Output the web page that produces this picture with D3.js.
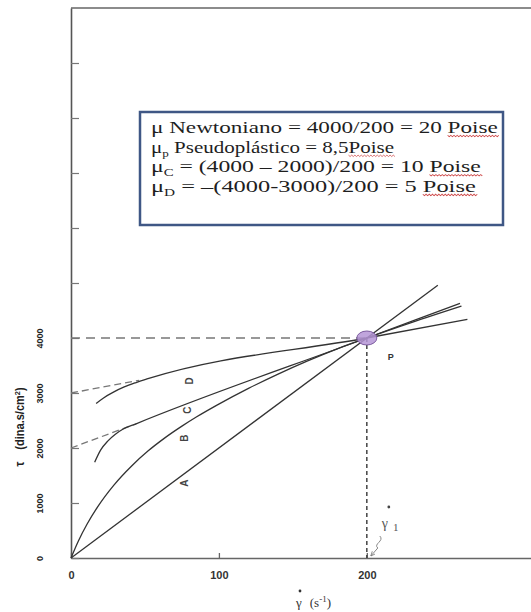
<!DOCTYPE html>
<html>
<head>
<meta charset="utf-8">
<script src="https://cdn.jsdelivr.net/npm/d3@7"></script>
<style>
body { margin: 0; background: #fff; }
svg { display: block; }
</style>
</head>
<body>
<svg width="531" height="612"></svg>
<script>
const width = 531;
const height = 612;

// values (x: shear rate s^-1, y: stress dina.s/cm2)
const xTicks = [0, 100, 200];
const yTicks = [0, 1000, 2000, 3000, 4000, 5000, 6000, 7000, 8000, 9000];
const yLabelMax = 4000;

const curveA = [[0, 0], [248, 4960]];
const curveB = [[0, 0], [5, 310], [11, 622], [18, 930], [29, 1326], [41, 1674], [52, 1944], [63, 2175],
                [75, 2397], [85, 2567], [99, 2784], [120, 3084], [140, 3344], [160, 3584], [180, 3804],
                [200, 4000], [230, 4280], [264, 4580]];
const curveC = [[16, 1740], [20, 1960], [25, 2130], [30, 2250], [35, 2340], [44, 2440], [200, 4000], [263, 4630]];
const tangentC = [[0, 2000], [44, 2440]];
const curveD = [[17, 2810], [22, 2910], [29, 3020], [36, 3110], [44, 3190], [52, 3260], [200, 4000], [268, 4340]];
const tangentD = [[0, 3000], [46, 3230]];
const pointP = [200, 4000];

const labelNames = ['A', 'B', 'C', 'D'];
const labelX = [77, 77, 79, 80];
const labelY = [1360, 2180, 2690, 3220];

const boxLines = [
    [{t: 'μ'}, {t: ' Newtoniano  = 4000/200 = 20 '}, {t: 'Poise', wavy: true}],
    [{t: 'μ'}, {t: 'p', sub: true}, {t: ' Pseudoplástico = 8,5'}, {t: 'Poise', wavy: true}],
    [{t: 'μ'}, {t: 'C', sub: true}, {t: ' = (4000 – 2000)/200 = 10 '}, {t: 'Poise', wavy: true}],
    [{t: 'μ'}, {t: 'D', sub: true}, {t: ' = –(4000-3000)/200 = 5 '}, {t: 'Poise', wavy: true}]
];
const boxLineWidths = [347, 243, 330, 325];

const svg = d3.select('svg');

const x = d3.scaleLinear().domain([0, 311]).range([71, 531]);
const y = d3.scaleLinear().domain([0, 10000]).range([558, 8]);

const line = d3.line().x(d => x(d[0])).y(d => y(d[1]));
const smooth = d3.line().x(d => x(d[0])).y(d => y(d[1])).curve(d3.curveMonotoneX);

// frame top
svg.append('line')
    .attr('x1', x(0)).attr('x2', width)
    .attr('y1', y(10000)).attr('y2', y(10000))
    .attr('stroke', '#666').attr('stroke-width', 1.5);

// axes
const xAxis_g = svg.append('g')
    .attr('transform', 'translate(0,' + y(0) + ')')
    .call(d3.axisBottom(x).tickValues(xTicks).tickSize(-5).tickSizeOuter(0).tickPadding(13));
xAxis_g.select('.domain').attr('stroke', '#666').attr('stroke-width', 1.6);
xAxis_g.selectAll('.tick line').attr('stroke', '#666').attr('stroke-width', 1.3);
xAxis_g.selectAll('text')
    .style('font-family', '"Liberation Sans", Arial, sans-serif')
    .style('font-weight', 'bold')
    .style('font-size', '11px')
    .attr('fill', '#333');

const yAxis_g = svg.append('g')
    .attr('transform', 'translate(' + x(0) + ',0)')
    .call(d3.axisLeft(y).tickValues(yTicks).tickSize(-8).tickSizeOuter(0)
        .tickFormat(d => d <= yLabelMax ? d : ''));
yAxis_g.select('.domain').attr('stroke', '#555').attr('stroke-width', 1.6);
yAxis_g.selectAll('.tick line').attr('stroke', '#777').attr('stroke-width', 1.2);
yAxis_g.selectAll('text')
    .attr('x', null).attr('dy', null)
    .attr('transform', 'translate(-31,0) rotate(-90)')
    .attr('text-anchor', 'middle')
    .attr('dy', '0.35em')
    .attr('fill', '#222')
    .style('font-family', '"Liberation Sans", Arial, sans-serif')
    .style('font-weight', 'bold')
    .style('font-size', '9px');

// y title
const yTitle = svg.append('text')
    .attr('transform', 'translate(24,427) rotate(-90) scale(0.92,1)')
    .attr('text-anchor', 'middle')
    .attr('fill', '#222')
    .style('font-family', '"Liberation Sans", Arial, sans-serif')
    .style('font-weight', 'bold')
    .style('font-size', '12px');
yTitle.append('tspan').text('τ');
yTitle.append('tspan').attr('dx', 13).text('(dina.s/cm');
yTitle.append('tspan').attr('dy', -4).style('font-size', '8px').text('2');
yTitle.append('tspan').attr('dy', 4).text(')');

// x title
svg.append('circle').attr('cx', 300).attr('cy', 591).attr('r', 1.4).attr('fill', '#333');
const xTitle = svg.append('text')
    .attr('x', 296).attr('y', 607)
    .attr('fill', '#333')
    .style('font-family', '"Liberation Serif", "DejaVu Serif", "Times New Roman", serif')
    .style('font-size', '13px');
xTitle.append('tspan').text('γ');
xTitle.append('tspan').attr('dx', 8).text('(s');
xTitle.append('tspan').attr('dy', -5).style('font-size', '9px').text('-1');
xTitle.append('tspan').attr('dy', 5).text(')');

// reference dashed lines through P
svg.append('path')
    .datum([[0, pointP[1]], pointP])
    .attr('d', line)
    .attr('fill', 'none').attr('stroke', '#777').attr('stroke-width', 1.3)
    .attr('stroke-dasharray', '9,6');
svg.append('path')
    .datum([pointP, [pointP[0], 0]])
    .attr('d', line)
    .attr('fill', 'none').attr('stroke', '#444').attr('stroke-width', 1.5)
    .attr('stroke-dasharray', '4,3');

// tangent extensions
svg.selectAll('.tangent')
    .data([tangentC, tangentD])
    .enter().append('path')
    .attr('class', 'tangent')
    .attr('d', line)
    .attr('fill', 'none').attr('stroke', '#777').attr('stroke-width', 1.3)
    .attr('stroke-dasharray', '7,4');

// curves
svg.selectAll('.curve')
    .data([curveA, curveB, curveC, curveD])
    .enter().append('path')
    .attr('class', 'curve')
    .attr('d', smooth)
    .attr('fill', 'none')
    .attr('stroke', '#333')
    .attr('stroke-width', 1.3);

// curve letters
svg.selectAll('.curve-label')
    .data(labelNames)
    .enter().append('text')
    .attr('class', 'curve-label')
    .attr('transform', (d, i) => 'translate(' + x(labelX[i]) + ',' + y(labelY[i]) + ') rotate(-90)')
    .attr('text-anchor', 'middle')
    .attr('dy', '0.35em')
    .attr('fill', '#444')
    .style('font-family', '"Liberation Sans", Arial, sans-serif')
    .style('font-weight', 'bold')
    .style('font-size', '10px')
    .text(d => d);

// point P
svg.append('ellipse')
    .attr('cx', x(pointP[0])).attr('cy', y(pointP[1]))
    .attr('rx', 10).attr('ry', 7)
    .attr('fill', '#b595d6').attr('fill-opacity', 0.85)
    .attr('stroke', '#7b5a9e').attr('stroke-width', 1);
svg.append('text')
    .attr('x', x(pointP[0]) + 21).attr('y', y(pointP[1]) + 22)
    .attr('fill', '#333')
    .style('font-family', '"Liberation Sans", Arial, sans-serif')
    .style('font-weight', 'bold')
    .style('font-size', '9px')
    .text('P');

// gamma dot 1 annotation
const gx = x(pointP[0]);
const gy = y(0);
svg.append('circle').attr('cx', gx + 22).attr('cy', gy - 51).attr('r', 1.4).attr('fill', '#444');
const g1 = svg.append('text')
    .attr('x', gx + 15).attr('y', gy - 30)
    .attr('fill', '#555')
    .style('font-family', '"Liberation Serif", "DejaVu Serif", "Times New Roman", serif')
    .style('font-size', '14px');
g1.append('tspan').text('γ');
g1.append('tspan').attr('dx', 5).attr('dy', 3).style('font-size', '11px').text('1');

svg.append('defs').append('marker')
    .attr('id', 'arrow')
    .attr('viewBox', '0 0 10 10')
    .attr('refX', 9).attr('refY', 5)
    .attr('markerWidth', 5).attr('markerHeight', 5)
    .attr('orient', 'auto')
    .append('path').attr('d', 'M0,1 L9,5 L0,9').attr('fill', 'none').attr('stroke', '#777').attr('stroke-width', 1.5);
svg.append('path')
    .attr('d', 'M' + (gx + 13) + ',' + (gy - 22) + ' C' + (gx + 18) + ',' + (gy - 17) + ' ' + (gx + 6) + ',' + (gy - 14) + ' ' + (gx + 11) + ',' + (gy - 10) + ' L' + (gx + 4) + ',' + (gy - 2))
    .attr('fill', 'none').attr('stroke', '#888').attr('stroke-width', 1)
    .attr('marker-end', 'url(#arrow)');

// text box
const box = {x: 140, y: 112, w: 363, h: 113};
svg.append('rect')
    .attr('x', box.x).attr('y', box.y)
    .attr('width', box.w).attr('height', box.h)
    .attr('fill', '#fff')
    .attr('stroke', '#3f5785')
    .attr('stroke-width', 2.5);

const lines_g = svg.selectAll('.box-line')
    .data(boxLines)
    .enter().append('g')
    .attr('class', 'box-line');

lines_g.each(function(parts, i) {
    const g = d3.select(this);
    const t = g.append('text')
        .attr('x', 0)
        .attr('y', 133 + i * 19.7)
        .attr('fill', '#1e1e1e')
        .style('font-family', '"Liberation Serif", "DejaVu Serif", "Times New Roman", serif')
        .style('font-size', '16px');
    let shifted = false;
    parts.forEach(p => {
        const ts = t.append('tspan').text(p.t);
        if (p.sub) {
            ts.attr('dy', 4).style('font-size', '10px');
            shifted = true;
        } else if (shifted) {
            ts.attr('dy', -4);
            shifted = false;
        }
        if (p.wavy) ts.attr('class', 'wavy');
    });
    const sx = boxLineWidths[i] / t.node().getComputedTextLength();
    g.attr('transform', 'translate(151,0) scale(' + sx + ',1)');

    t.selectAll('.wavy').each(function() {
        const b = this.getBBox();
        const yy = b.y + b.height - 1;
        const step = 1.6 / sx;
        let d = 'M' + b.x + ',' + yy;
        for (let xx = b.x, k = 0; xx < b.x + b.width; xx += step, k++) {
            d += ' L' + (xx + step) + ',' + (yy + (k % 2 ? 0 : 1.4));
        }
        g.append('path')
            .attr('d', d)
            .attr('fill', 'none')
            .attr('stroke', '#d05050')
            .attr('stroke-width', 0.7);
    });
});
</script>
</body>
</html>
